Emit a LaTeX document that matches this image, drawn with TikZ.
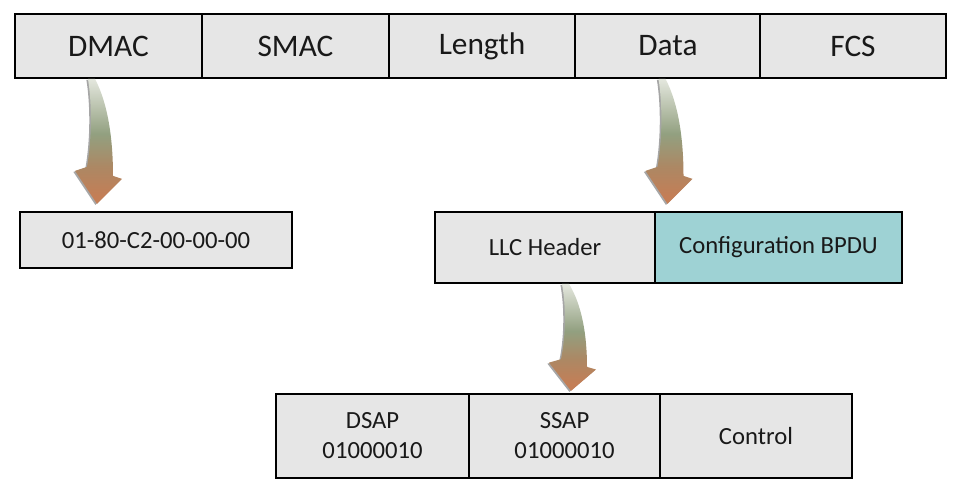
\documentclass[tikz,border=0pt]{standalone}
\usepackage{fontspec}
\setmainfont{Carlito}
\usetikzlibrary{calc,shadows}
\definecolor{fieldGray}{HTML}{E6E6E6}
\definecolor{bpduTeal}{HTML}{9ED2D4}
\definecolor{arrowTop}{RGB}{228,231,222}
\definecolor{arrowMid}{RGB}{146,160,128}
\definecolor{arrowLow}{RGB}{172,136,100}
\definecolor{arrowBot}{RGB}{196,126,86}
\pgfdeclareverticalshading{fieldArrowShade}{100bp}{color(0bp)=(arrowBot);
    color(28bp)=(arrowBot); color(40bp)=(arrowLow); color(53bp)=(arrowMid);
    color(75bp)=(arrowTop); color(100bp)=(arrowTop)}
\begin{document}
\begin{tikzpicture}[
    x=0.75pt, y=-0.75pt,
    frameField/.style={draw=black, line width=1.3pt, fill=fieldGray,
        minimum width=139.9pt, minimum height=48pt, inner sep=0pt,
        text=black!90, font=\fontsize{23.5}{26}\selectfont},
    subField/.style={frameField, font=\fontsize{18.5}{22.5}\selectfont,
        align=center},
    fieldArrowFill/.style={shading=fieldArrowShade, draw=none,
        drop shadow={shadow xshift=-1.2pt, shadow yshift=-0.8pt,
            opacity=0.35, fill=black}},
    fieldarrow/.pic={
        \path[fieldArrowFill] (0,0) -- (7,0)
            .. controls (20,25) and (25,60) .. (25,97)
            -- (34,100) -- (9,125) -- (-13,92) -- (-1,88)
            .. controls (4,60) and (4,25) .. (0,0) -- cycle;
    }
]
    \useasboundingbox (0,0) rectangle (960,489);

    % Ethernet frame
    \node[frameField] (dmac)   at (108.5,46) {DMAC};
    \node[frameField] (smac)   at (295.5,46) {SMAC};
    \node[frameField] (length) at (482,46)   {Length};
    \node[frameField] (data)   at (668,46)   {Data};
    \node[frameField] (fcs)    at (853,46)   {FCS};

    % destination address
    \node[subField, minimum width=204pt, minimum height=42pt]
        (addr) at (156,240) {01-80-C2-00-00-00};

    % data field
    \node[subField, minimum width=165pt, minimum height=53.25pt]
        (llc) at (545,247.5) {LLC Header};
    \node[subField, minimum width=185.25pt, minimum height=53.25pt,
        fill=bpduTeal] (bpdu) at (778.5,247.5) {Configuration BPDU};

    % LLC header
    \node[subField, minimum width=144.75pt, minimum height=63pt]
        (dsap) at (372.5,436) {DSAP\\01000010};
    \node[subField, minimum width=143.25pt, minimum height=63pt]
        (ssap) at (564.5,436) {SSAP\\01000010};
    \node[subField, minimum width=144pt, minimum height=63pt]
        (control) at (756,436) {Control};

    % arrows
    \pic at ($(dmac.south)+(-20.5,0)$) {fieldarrow};
    \pic at ($(data.south)+(-9.5,0)$) {fieldarrow};
    \pic[yscale=0.856] at ($(llc.south)+(17,0)$) {fieldarrow};
\end{tikzpicture}
\end{document}
